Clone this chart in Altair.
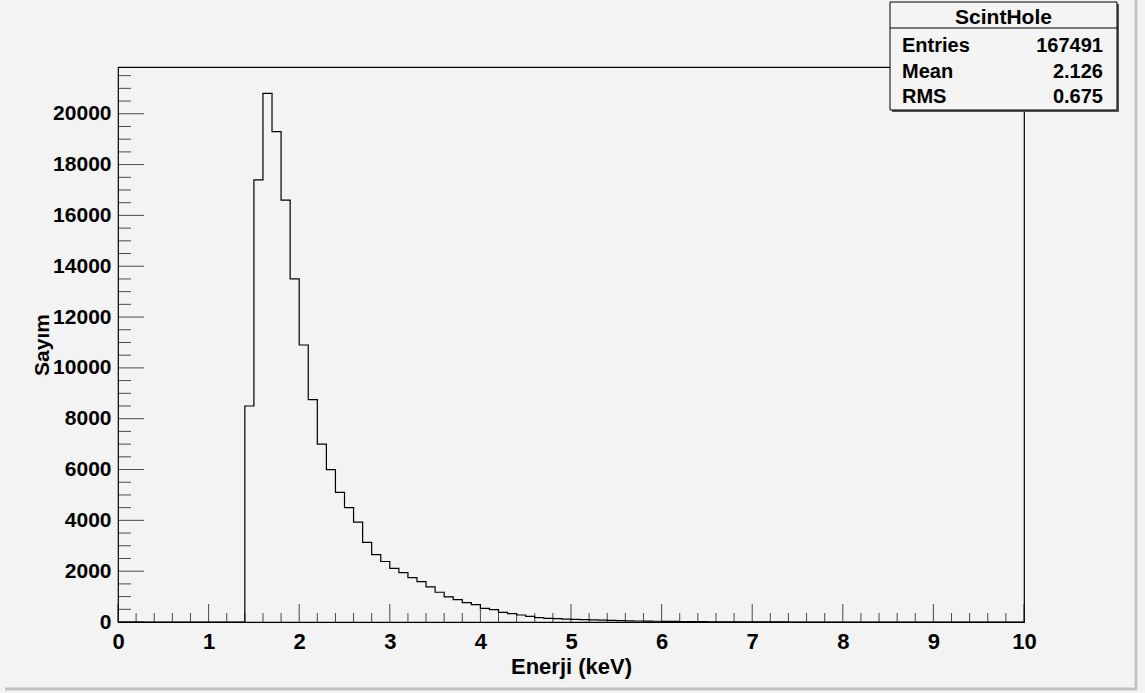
import altair as alt
import pandas as pd

# ---- histogram "ScintHole": 100 bins of 0.1 keV over [0, 10] ----
x_min, x_max, n_bins = 0.0, 10.0, 100
counts = [
    0, 0, 0, 0, 0, 0, 0, 0, 0, 0,                                 # 0.0 - 1.0
    0, 0, 0, 0, 8500, 17400, 20800, 19300, 16600, 13500,          # 1.0 - 2.0
    10900, 8750, 7000, 6000, 5100, 4500, 3930, 3130, 2650, 2380,  # 2.0 - 3.0
    2110, 1940, 1750, 1590, 1380, 1170, 990, 880, 760, 680,       # 3.0 - 4.0
    538, 486, 381, 328, 276, 223, 171, 144, 131, 110,             # 4.0 - 5.0
    105, 95, 80, 70, 62, 55, 46, 40, 35, 30,                      # 5.0 - 6.0
    26, 22, 18, 15, 12, 10, 8, 6, 5, 4,                           # 6.0 - 7.0
    3, 3, 2, 2, 1, 1, 0, 0, 0, 0,                                 # 7.0 - 8.0
    0, 0, 0, 0, 0, 0, 0, 0, 0, 0,                                 # 8.0 - 9.0
    0, 0, 0, 0, 0, 0, 0, 0, 0, 0,                                 # 9.0 - 10.0
]
y_max = 21840

# statistics box
hist_name = "ScintHole"
entries = 167491
mean = 2.126
rms = 0.675

# axis ticks
x_major = list(range(0, 11))
x_minor = [round(i * 0.2, 1) for i in range(51) if i % 5 != 0]
y_major = list(range(0, 20001, 2000))
y_minor = [v for v in range(0, 21501, 500) if v % 2000 != 0]

bw = (x_max - x_min) / n_bins
edges = [round(x_min + i * bw, 2) for i in range(n_bins + 1)]
hist = pd.DataFrame({"x": edges, "n": counts + [0]})

W, H = 906, 555
FONT = "Liberation Sans, Arial, Helvetica"

xs = alt.Scale(domain=[x_min, x_max], nice=False, zero=False)
ys = alt.Scale(domain=[0, y_max], nice=False, zero=False)

# one axis definition per direction, shared by every layer that uses the scale
x_axis = alt.Axis(
    title="Enerji (keV)", values=x_major, format="d", ticks=False,
    domain=False, grid=False, labelFont=FONT, labelFontSize=22,
    labelFontWeight="bold", labelColor="black", labelPadding=9,
    labelOverlap=False, labelFlush=False, labelBound=False,
    titleFont=FONT, titleFontSize=22, titleFontWeight="bold",
    titleColor="black", titleY=51, titleBaseline="alphabetic")
y_axis = alt.Axis(
    title="Sayım", values=y_major, format="d", ticks=False,
    domain=False, grid=False, labelFont=FONT, labelFontSize=21,
    labelFontWeight="bold", labelColor="black", labelPadding=7,
    labelOverlap=False, labelFlush=False, labelBound=False,
    titleFont=FONT, titleFontSize=21, titleFontWeight="bold",
    titleColor="black", titleAngle=270, titleAlign="center",
    titleX=-70, titleY=H / 2, titleBaseline="alphabetic")

line = alt.Chart(hist).mark_line(
    interpolate="step-after", color="black", strokeWidth=1.2
).encode(
    x=alt.X("x:Q", scale=xs, axis=x_axis),
    y=alt.Y("n:Q", scale=ys, axis=y_axis),
)

# inward-pointing ticks, ROOT style
def xticks(vals, length):
    return alt.Chart(pd.DataFrame({"x": vals})).mark_tick(
        orient="vertical", color="black", thickness=1, size=length
    ).encode(x=alt.X("x:Q", scale=xs, axis=x_axis),
             y=alt.value(H - length / 2))

def yticks(vals, length):
    return alt.Chart(pd.DataFrame({"n": vals})).mark_tick(
        orient="horizontal", color="black", thickness=1, size=length
    ).encode(y=alt.Y("n:Q", scale=ys, axis=y_axis),
             x=alt.value(length / 2))

one = alt.Data(values=[{}])

def rect(x, x2, y, y2, fill, stroke=None):
    kw = {"fill": fill}
    if stroke:
        kw.update(stroke=stroke, strokeWidth=1)
    return alt.Chart(one).mark_rect(**kw).encode(
        x=alt.value(x), x2=alt.value(x2), y=alt.value(y), y2=alt.value(y2))

def rule(x, x2, y, y2, color, width):
    return alt.Chart(one).mark_rule(color=color, strokeWidth=width).encode(
        x=alt.value(x), x2=alt.value(x2), y=alt.value(y), y2=alt.value(y2))

def text(s, x, y, align, size=20):
    return alt.Chart(one).mark_text(
        text=s, align=align, baseline="alphabetic", font=FONT,
        fontSize=size, fontWeight="bold", color="black"
    ).encode(x=alt.value(x), y=alt.value(y))

# statistics box (plot-area pixel coordinates)
bx0, bx1, by0, by1 = 772, 999, -65, 43
stats = [
    rect(bx0 + 2, bx1 + 2, by0 + 2, by1 + 2, "#555555"),
    rect(bx0, bx1, by0, by1, "#f4f4f4", "black"),
    rule(bx0, bx1, -39, -39, "black", 1),
    text(hist_name, (bx0 + bx1) / 2, -43, "center", 21),
    text("Entries", bx0 + 12, -15, "left"),
    text(f"{entries}", bx1 - 14, -15, "right"),
    text("Mean", bx0 + 12, 11, "left"),
    text(f"{mean:.3f}", bx1 - 14, 11, "right"),
    text("RMS", bx0 + 12, 36, "left"),
    text(f"{rms:.3f}", bx1 - 14, 36, "right"),
]

# canvas edge
edge = [
    rule(-113, 1019, 622, 622, "#c3c3c3", 3),
    rule(1018, 1018, -67, 622, "#c3c3c3", 3),
]

chart = alt.layer(
    line,
    xticks(x_major, 18), xticks(x_minor, 9),
    yticks(y_major, 26), yticks(y_minor, 13),
    *stats, *edge,
).properties(
    width=W, height=H,
    autosize=alt.AutoSizeParams(type="none"),
    padding={"left": 118, "top": 67, "right": 121, "bottom": 71},
    background="#f3f3f3",
).configure_view(stroke="black", strokeWidth=1.2)

chart.save("out.html", embed_options={"renderer": "svg", "actions": False})
